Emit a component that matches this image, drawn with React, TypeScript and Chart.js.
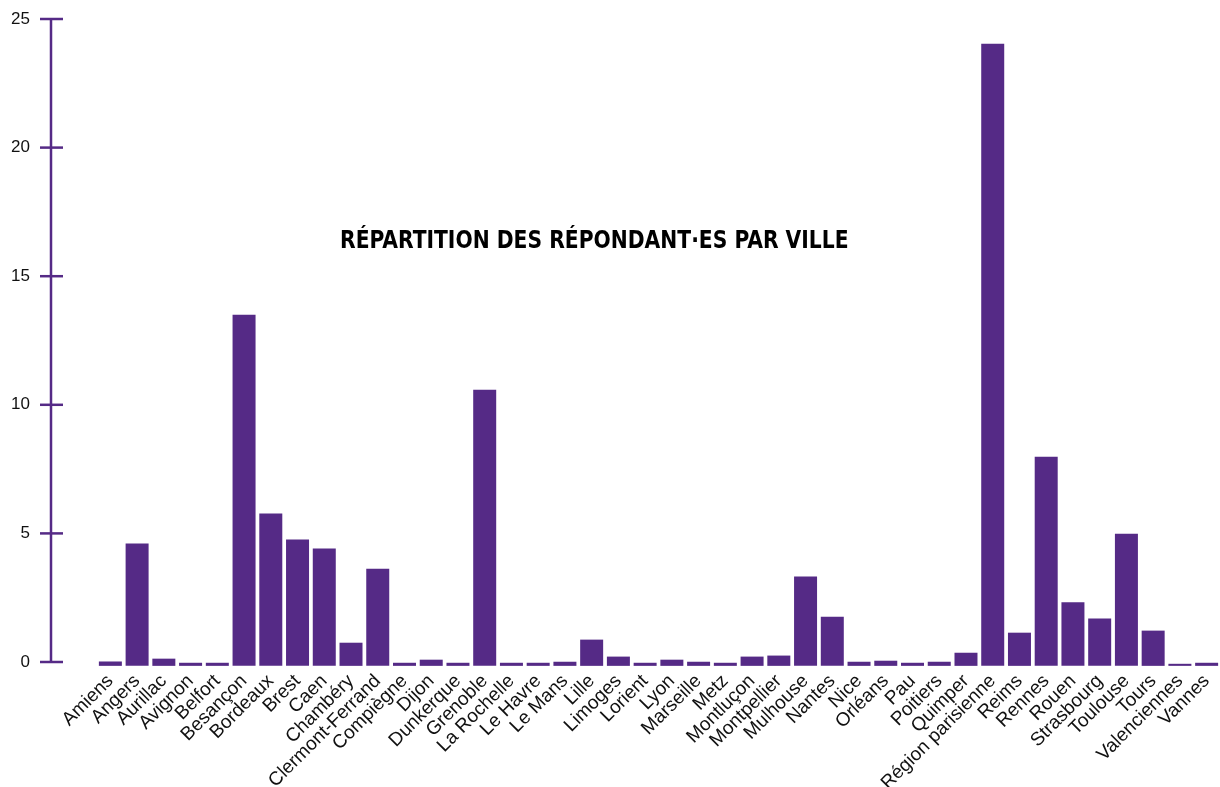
import React, { useEffect, useRef } from 'react';
import { Chart, registerables } from 'chart.js';

Chart.register(...registerables);

const cities = [
  'Amiens', 'Angers', 'Aurillac', 'Avignon', 'Belfort', 'Besançon', 'Bordeaux', 'Brest', 'Caen', 'Chambéry',
  'Clermont-Ferrand', 'Compiègne', 'Dijon', 'Dunkerque', 'Grenoble', 'La Rochelle', 'Le Havre', 'Le Mans', 'Lille', 'Limoges',
  'Lorient', 'Lyon', 'Marseille', 'Metz', 'Montluçon', 'Montpellier', 'Mulhouse', 'Nantes', 'Nice', 'Orléans',
  'Pau', 'Poitiers', 'Quimper', 'Région parisienne', 'Reims', 'Rennes', 'Rouen', 'Strasbourg', 'Toulouse', 'Tours',
  'Valenciennes', 'Vannes',
];

const values = [
  0.02, 4.61, 0.13, -0.03, -0.03, 13.5, 5.77, 4.76, 4.41, 0.75,
  3.63, -0.03, 0.09, -0.03, 10.59, -0.03, -0.03, 0.01, 0.87, 0.21,
  -0.03, 0.09, 0.01, -0.03, 0.21, 0.25, 3.32, 1.76, 0.01, 0.05,
  -0.03, 0.01, 0.36, 24.04, 1.14, 7.98, 2.32, 1.69, 4.99, 1.22,
  -0.07, -0.03,
];

const barBase = -0.15;
const yMin = 0;
const yMax = 25;
const yStep = 5;

const TITLE = 'RÉPARTITION DES RÉPONDANT·ES PAR VILLE';
const PURPLE = '#552a86';
const TITLE_WIDTH = 509;

const offsetAxisPlugin = {
  id: 'offsetAxis',
  afterDraw(chart: any) {
    const { ctx, chartArea, scales } = chart;
    const y = scales.y;
    const x0 = chartArea.left - 46;
    ctx.save();
    ctx.strokeStyle = PURPLE;
    ctx.lineWidth = 2.5;
    ctx.beginPath();
    ctx.moveTo(x0, y.getPixelForValue(y.max));
    ctx.lineTo(x0, y.getPixelForValue(y.min));
    ctx.stroke();
    y.ticks.forEach((t: any) => {
      const py = y.getPixelForValue(t.value);
      ctx.beginPath();
      ctx.moveTo(x0 - 11, py);
      ctx.lineTo(x0 + 12, py);
      ctx.stroke();
    });
    ctx.restore();
  },
};

export default function App() {
  const ref = useRef<HTMLCanvasElement | null>(null);
  const titleRef = useRef<HTMLDivElement | null>(null);

  useEffect(() => {
    if (titleRef.current) {
      const w = titleRef.current.scrollWidth;
      if (w > 0) titleRef.current.style.transform = `scaleX(${TITLE_WIDTH / w})`;
    }
    if (!ref.current) return;
    const chart = new Chart(ref.current, {
      type: 'bar',
      data: {
        labels: cities,
        datasets: [
          {
            data: values,
            base: barBase,
            backgroundColor: PURPLE,
            borderWidth: 0,
            barPercentage: 0.86,
            categoryPercentage: 1,
            clip: false as any,
          } as any,
        ],
      },
      options: {
        animation: false,
        responsive: false,
        maintainAspectRatio: false,
        layout: { padding: { top: 19, left: 0, right: -2, bottom: 0 } },
        plugins: {
          legend: { display: false },
          tooltip: { enabled: false },
          title: { display: false },
        },
        scales: {
          x: {
            type: 'category',
            offset: true,
            grid: { display: false, drawTicks: false },
            border: { display: false },
            ticks: {
              autoSkip: false,
              maxRotation: 45,
              minRotation: 45,
              padding: 8,
              color: '#111',
              font: { family: "'Liberation Sans', Arial, sans-serif", size: 19 },
            },
            afterFit(scale: any) {
              scale.height = 125;
              scale.paddingLeft = 0;
              scale.paddingRight = 0;
            },
          },
          y: {
            min: yMin,
            max: yMax,
            grid: { display: false, drawTicks: false },
            border: { display: false },
            ticks: {
              stepSize: yStep,
              padding: 67,
              color: '#111',
              font: { family: "'Liberation Sans', Arial, sans-serif", size: 17 },
            },
            afterFit(scale: any) {
              scale.width = 97;
              scale.paddingTop = 0;
              scale.paddingBottom = 0;
            },
          },
        },
      },
      plugins: [offsetAxisPlugin],
    });
    return () => chart.destroy();
  }, []);

  return (
    <div style={{ position: 'fixed', left: 0, top: 0, width: 1220, height: 787, background: '#fff' }}>
      <canvas ref={ref} width={1220} height={787} style={{ display: 'block' }} />
      <div
        ref={titleRef}
        style={{
          position: 'absolute',
          left: 340,
          top: 227,
          fontFamily: "'Liberation Sans Narrow', 'DejaVu Sans Condensed', 'Liberation Sans', sans-serif",
          fontWeight: 'bold',
          fontSize: 25,
          lineHeight: 1,
          color: '#000',
          whiteSpace: 'nowrap',
          transformOrigin: 'left top',
        }}
      >
        {TITLE}
      </div>
    </div>
  );
}
